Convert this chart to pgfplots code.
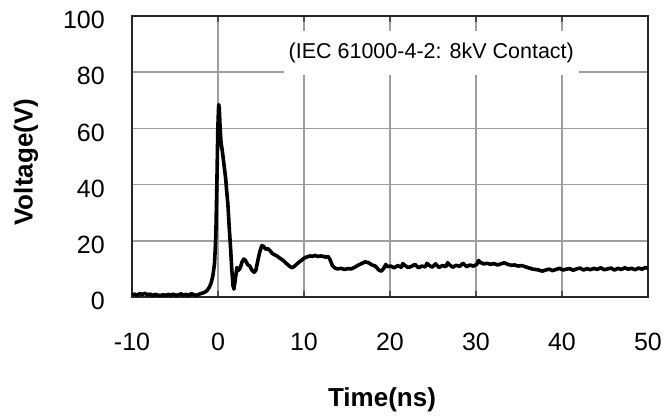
\documentclass[border=0pt]{standalone}
\usepackage{fontspec}
\setmainfont{Liberation Sans}
\usepackage{pgfplots}
\pgfplotsset{compat=1.18}
\begin{document}
\begin{tikzpicture}
\begin{axis}[
  scale only axis, width=516pt, height=281pt,
  xmin=-10, xmax=50, ymin=0, ymax=100,
  xtick={-10,0,10,20,30,40,50},
  ytick={0,20,40,60,80,100},
  /pgf/number format/assume math mode=true,
  grid=major,
  major grid style={draw=black!38, line width=1.4pt},
  axis line style={draw=black!85, line width=1.6pt},
  tick align=inside,
  xtick style={draw=black!70, line width=1.2pt},
  major tick length=6pt,
  ytick style={draw=none},
  xticklabel style={font=\fontsize{25}{30}\selectfont, anchor=north, inner sep=0pt, yshift=-36pt},
  yticklabel style={font=\fontsize{25}{30}\selectfont, anchor=east, inner sep=0pt, xshift=-27pt, yshift=-4pt},
  xlabel={Time(ns)},
  ylabel={Voltage(V)},
  xlabel style={font=\fontsize{26}{30}\selectfont\bfseries, at={(axis description cs:0.4845,-0.3665)}, anchor=center, inner sep=0pt},
  ylabel style={font=\fontsize{26}{30}\selectfont\bfseries, at={(axis description cs:-0.2054,0.48)}, anchor=center, inner sep=0pt},
]
\addplot[black, line width=3.6pt, line join=round] coordinates {
(-10,0.8) (-9.7,1.0) (-9.4,0.7) (-9.1,1.2) (-8.8,0.9) (-8.5,1.3) (-8.2,0.8) (-7.9,1.0) (-7.6,0.6) (-7.3,0.9)
(-7.0,0.7) (-6.7,0.5) (-6.4,0.8) (-6.1,0.6) (-5.8,0.9) (-5.5,0.7) (-5.2,1.0) (-4.9,0.6) (-4.6,0.8) (-4.3,1.1)
(-4.0,0.7) (-3.7,0.9) (-3.4,0.6) (-3.1,1.2) (-2.8,0.8) (-2.5,0.6) (-2.2,1.0) (-1.9,1.3) (-1.6,1.6) (-1.3,2.2)
(-1.0,3.5) (-0.8,5.0) (-0.6,7.5) (-0.4,12) (-0.25,22) (-0.12,42) (-0.02,60) (0.08,68.5) (0.15,67) (0.25,60)
(0.35,55) (0.5,52) (0.7,47) (0.9,42) (1.0,38) (1.15,33) (1.3,25) (1.45,18) (1.6,10) (1.75,4)
(1.85,2.8) (2.0,6) (2.2,10.5) (2.4,9.5) (2.6,10.5) (2.8,12.5) (3.0,13.5) (3.2,13) (3.45,11.5) (3.7,11)
(3.95,9.5) (4.2,8.8) (4.4,9.5) (4.6,12.5) (4.85,16) (5.1,18.3) (5.3,18) (5.55,17) (5.8,17.2) (6.05,16.5)
(6.3,15.5) (6.6,15) (6.9,14.5) (7.2,13.8) (7.5,13.2) (7.8,12.4) (8.1,11.5) (8.4,10.8) (8.65,10.4) (8.9,11)
(9.2,11.8) (9.5,12.6) (9.8,13.3) (10.1,14) (10.4,14.3) (10.7,14.6) (11.0,14.5) (11.3,14.8) (11.6,14.4) (11.9,14.6)
(12.2,14.5) (12.5,14.2) (12.8,14.4) (13.0,13.5) (13.3,11.2) (13.6,10.3) (13.9,10.0) (14.3,10.2) (14.7,9.8) (15.1,10.1)
(15.5,10.0) (15.9,10.6) (16.3,11.3) (16.7,11.9) (17.1,12.5) (17.5,12.2) (17.9,11.4) (18.3,11.0) (18.7,9.6) (19.0,9.2)
(19.3,10.3) (19.5,11.6) (19.7,10.8) (20.1,11.0) (20.5,10.4) (20.9,11.2) (21.3,10.6) (21.5,11.9) (21.7,11.3) (22.1,10.5) (22.5,10.9) (22.9,11.6)
(23.3,10.4) (23.7,11.0) (24.1,10.7) (24.3,12.0) (24.5,11.4) (24.9,10.6) (25.3,11.8) (25.7,10.5) (26.1,11.2) (26.5,10.8) (26.7,12.2) (26.9,11.5)
(27.3,10.6) (27.7,11.3) (28.1,10.9) (28.5,12.0) (28.9,10.8) (29.3,11.4) (29.7,11.0) (30.1,11.6) (30.3,13.0) (30.5,12.3) (30.9,11.8)
(31.3,12.0) (31.7,11.6) (32.1,11.9) (32.5,11.4) (32.9,11.8) (33.3,12.2) (33.7,11.6) (34.1,11.3) (34.5,11.4) (34.9,11.0)
(35.3,11.2) (35.7,10.8) (36.1,10.4) (36.5,10.0) (36.9,9.8) (37.3,9.6) (37.7,9.2) (38.1,9.6) (38.5,9.9) (38.9,9.4)
(39.3,9.8) (39.7,10.2) (40.1,9.6) (40.5,9.9) (40.9,10.1) (41.3,9.5) (41.7,10.0) (42.1,10.3) (42.5,9.6) (42.9,10.1)
(43.3,9.7) (43.7,10.2) (44.1,9.8) (44.5,10.4) (44.9,9.7) (45.3,10.0) (45.7,10.3) (46.1,9.6) (46.5,10.2) (46.9,9.8)
(47.3,10.4) (47.7,9.9) (48.1,10.2) (48.5,9.7) (48.9,10.3) (49.3,9.9) (49.7,10.5) (50.0,10.2)
};
\node[fill=white, inner xsep=5pt, inner ysep=12pt, font=\fontsize{21.5}{26}\selectfont] at (axis cs:24.8,86.8) {(IEC 61000-4-2: 8kV Contact)};
\end{axis}
\pgfresetboundingbox
\useasboundingbox (current axis.south west) ++(-132pt,-120pt) rectangle ([xshift=20pt,yshift=16pt]current axis.north east);
\end{tikzpicture}
\end{document}
